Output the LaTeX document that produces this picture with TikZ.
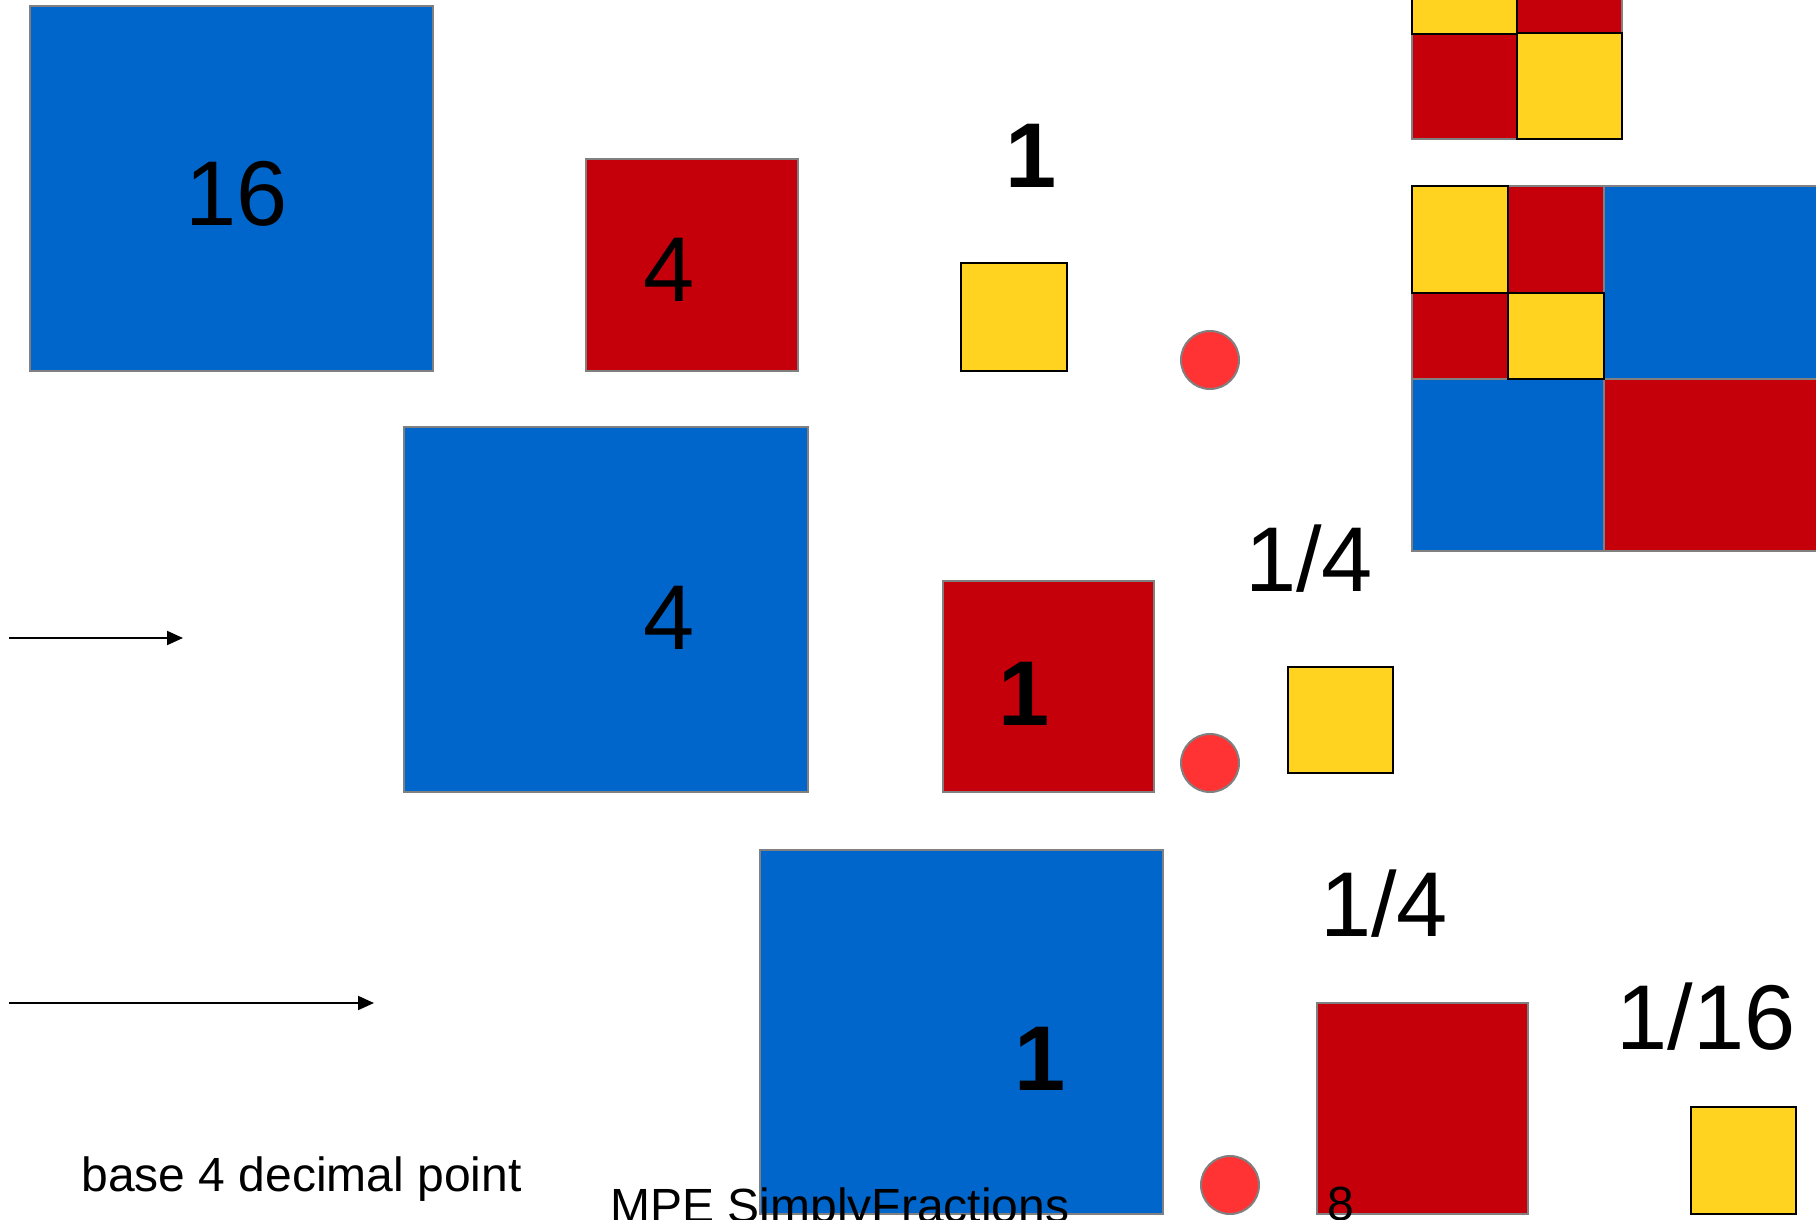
\documentclass[tikz,border=0pt]{standalone}
\usepackage{fontspec}
\setmainfont{Liberation Sans}
\usetikzlibrary{arrows.meta}

\definecolor{tileblue}{HTML}{0066CC}
\definecolor{tilered}{HTML}{C5000B}
\definecolor{tileyellow}{HTML}{FFD320}
\definecolor{dotred}{HTML}{FF3333}

\begin{document}
\begin{tikzpicture}[
  x=0.5pt, y=-0.5pt,
  >={Triangle[length=8pt, width=7pt]},
  tile/.style={anchor=north west, inner sep=0pt, outer sep=0pt, line width=1pt},
  wh/.style 2 args={minimum width=#1*0.5pt, minimum height=#2*0.5pt},
  bluetile/.style={tile, draw=gray, fill=tileblue},
  redtile/.style={tile, draw=gray, fill=tilered},
  yellowtile/.style={tile, draw=black, line width=1.3pt, fill=tileyellow},
  dot/.style={circle, draw=gray, fill=dotred, line width=1pt, minimum size=29pt, inner sep=0pt},
  biglbl/.style={anchor=base, inner sep=0pt, font=\fontsize{46}{50}\selectfont},
  boldlbl/.style={biglbl, font=\fontsize{46}{50}\selectfont\bfseries},
  smalllbl/.style={anchor=base west, inner sep=0pt, font=\fontsize{24}{28}\selectfont},
  arrow/.style={->, line width=1pt}
]

\useasboundingbox (0,0) rectangle (1816,1220);
\clip (0,0) rectangle (1816,1220);

% Row 1: 16, 4, 1
\node[bluetile, wh={403}{365}] (blue16) at (30,6) {};
\node[redtile, wh={212}{212}] (red4) at (586,159) {};
\node[yellowtile, wh={106}{108}] (yel1) at (961,263) {};
\node[dot] (dot1) at (1210,360) {};
\node[biglbl] (lbl16) at (237,226) {16};
\node[biglbl] (lbl4a) at (669,301) {4};
\node[boldlbl] (lbl1a) at (1031,188) {1};

% Row 2: 4, 1, 1/4
\coordinate (arr1s) at (9,638);
\coordinate (arr1e) at (183,638);
\draw[arrow] (arr1s) -- (arr1e);
\node[bluetile, wh={404}{365}] (blue4) at (404,427) {};
\node[redtile, wh={211}{211}] (red1) at (943,581) {};
\node[dot] (dot2) at (1210,763) {};
\node[yellowtile, wh={105}{106}] (yelq) at (1288,667) {};
\node[biglbl] (lbl4b) at (669,649) {4};
\node[boldlbl] (lbl1b) at (1024,725) {1};
\node[biglbl] (lblq1) at (1309,591) {1/4};

% Row 3: 1, 1/4, 1/16
\coordinate (arr2s) at (9,1003);
\coordinate (arr2e) at (374,1003);
\draw[arrow] (arr2s) -- (arr2e);
\node[bluetile, wh={403}{364}] (blue1) at (760,850) {};
\node[dot] (dot3) at (1230,1185) {};
\node[redtile, wh={211}{211}] (red8) at (1317,1003) {};
\node[yellowtile, wh={105}{107}] (yel16) at (1691,1107) {};
\node[boldlbl] (lbl1c) at (1040,1090) {1};
\node[biglbl] (lblq2) at (1384,936) {1/4};
\node[biglbl] (lbl16th) at (1706,1049) {1/16};

% Captions
\node[smalllbl] (base) at (81,1191) {base 4 decimal point};
\node[smalllbl] (mpe) at (610,1222) {MPE SimplyFractions};
\node[smalllbl, anchor=base] (eight) at (1341,1220) {8};

% Top-right grid (cut off by the top edge)
\foreach \n/\x/\y/\s in {tr/1517/-72/redtile, bl/1412/33/redtile,
                         tl/1412/-72/yellowtile, br/1517/33/yellowtile} {
  \node[\s, wh={105}{106}] (top-\n) at (\x,\y) {};
}

% Middle-right grid
\node[bluetile, wh={215}{193}] (mid-tr) at (1604,186) {};
\node[bluetile, wh={192}{172}] (mid-bl) at (1412,379) {};
\node[redtile, wh={215}{172}] (mid-br) at (1604,379) {};
\foreach \n/\x/\y/\h/\s in {b/1508/186/107/redtile, c/1412/293/86/redtile,
                            a/1412/186/107/yellowtile, d/1508/293/86/yellowtile} {
  \node[\s, wh={96}{\h}] (mid-\n) at (\x,\y) {};
}

\end{tikzpicture}
\end{document}
